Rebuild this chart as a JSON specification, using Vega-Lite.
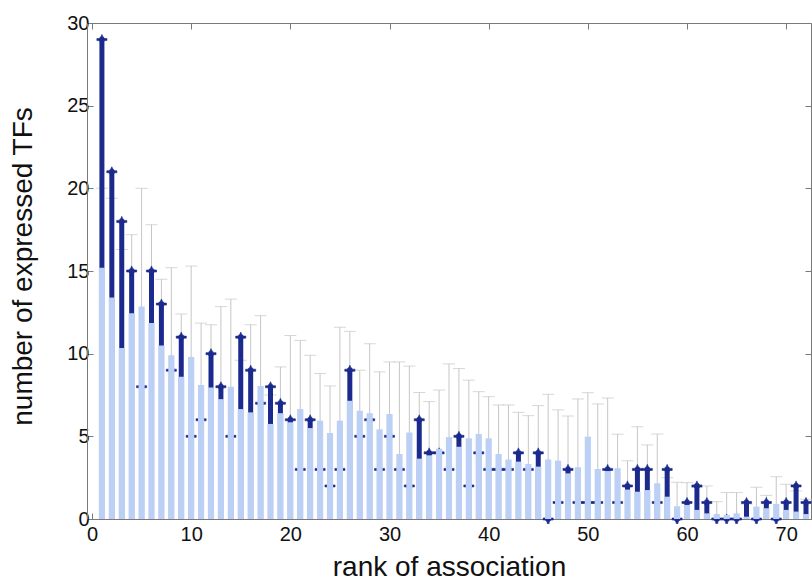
{
  "$schema": "https://vega.github.io/schema/vega-lite/v6.json",
  "width": 724,
  "height": 496,
  "autosize": {"type": "none"},
  "padding": {"left": 87, "top": 23, "right": 1, "bottom": 62},
  "background": "white",
  "config": {"view": {"stroke": "#7a7a7a", "strokeWidth": 1}, "font": "Liberation Sans"},
  "data": {"values": [
    {"rank":1,"random_mean":15.2,"upper":20.0,"observed":29},
    {"rank":2,"random_mean":13.4,"upper":19.4,"observed":21},
    {"rank":3,"random_mean":10.35,"upper":16.3,"observed":18},
    {"rank":4,"random_mean":12.45,"upper":17.2,"observed":15},
    {"rank":5,"random_mean":12.85,"upper":20.0,"observed":8},
    {"rank":6,"random_mean":11.85,"upper":17.8,"observed":15},
    {"rank":7,"random_mean":10.5,"upper":14.5,"observed":13},
    {"rank":8,"random_mean":9.9,"upper":15.2,"observed":9},
    {"rank":9,"random_mean":8.6,"upper":12.4,"observed":11},
    {"rank":10,"random_mean":9.8,"upper":15.3,"observed":5},
    {"rank":11,"random_mean":8.1,"upper":11.85,"observed":6},
    {"rank":12,"random_mean":7.95,"upper":11.75,"observed":10},
    {"rank":13,"random_mean":7.25,"upper":12.85,"observed":8},
    {"rank":14,"random_mean":8.0,"upper":13.3,"observed":5},
    {"rank":15,"random_mean":6.65,"upper":9.6,"observed":11},
    {"rank":16,"random_mean":6.45,"upper":11.75,"observed":9},
    {"rank":17,"random_mean":8.05,"upper":12.3,"observed":7},
    {"rank":18,"random_mean":5.75,"upper":7.5,"observed":8},
    {"rank":19,"random_mean":6.4,"upper":9.2,"observed":7},
    {"rank":20,"random_mean":5.85,"upper":11.1,"observed":6},
    {"rank":21,"random_mean":6.65,"upper":10.8,"observed":3},
    {"rank":22,"random_mean":5.5,"upper":9.9,"observed":6},
    {"rank":23,"random_mean":5.95,"upper":8.8,"observed":3},
    {"rank":24,"random_mean":5.2,"upper":8.05,"observed":2},
    {"rank":25,"random_mean":5.95,"upper":11.6,"observed":3},
    {"rank":26,"random_mean":7.15,"upper":11.35,"observed":9},
    {"rank":27,"random_mean":6.55,"upper":9.0,"observed":5},
    {"rank":28,"random_mean":6.4,"upper":10.6,"observed":6},
    {"rank":29,"random_mean":5.42,"upper":8.9,"observed":3},
    {"rank":30,"random_mean":6.35,"upper":9.5,"observed":5},
    {"rank":31,"random_mean":3.93,"upper":9.5,"observed":3},
    {"rank":32,"random_mean":5.23,"upper":9.25,"observed":2},
    {"rank":33,"random_mean":3.65,"upper":7.65,"observed":6},
    {"rank":34,"random_mean":3.85,"upper":7.1,"observed":4},
    {"rank":35,"random_mean":4.25,"upper":7.8,"observed":4},
    {"rank":36,"random_mean":4.95,"upper":9.38,"observed":3},
    {"rank":37,"random_mean":4.37,"upper":9.1,"observed":5},
    {"rank":38,"random_mean":4.88,"upper":8.4,"observed":2},
    {"rank":39,"random_mean":5.14,"upper":7.7,"observed":4},
    {"rank":40,"random_mean":4.88,"upper":7.4,"observed":3},
    {"rank":41,"random_mean":3.93,"upper":6.9,"observed":3},
    {"rank":42,"random_mean":3.6,"upper":6.9,"observed":3},
    {"rank":43,"random_mean":3.47,"upper":6.45,"observed":4},
    {"rank":44,"random_mean":3.33,"upper":6.25,"observed":3},
    {"rank":45,"random_mean":3.17,"upper":6.86,"observed":4},
    {"rank":46,"random_mean":3.6,"upper":7.54,"observed":0},
    {"rank":47,"random_mean":3.53,"upper":6.6,"observed":1},
    {"rank":48,"random_mean":2.76,"upper":6.23,"observed":3},
    {"rank":49,"random_mean":3.13,"upper":7.26,"observed":1},
    {"rank":50,"random_mean":4.98,"upper":7.64,"observed":1},
    {"rank":51,"random_mean":3.02,"upper":6.96,"observed":1},
    {"rank":52,"random_mean":2.9,"upper":7.32,"observed":3},
    {"rank":53,"random_mean":3.07,"upper":5.13,"observed":1},
    {"rank":54,"random_mean":1.78,"upper":3.52,"observed":2},
    {"rank":55,"random_mean":1.65,"upper":5.58,"observed":3},
    {"rank":56,"random_mean":1.75,"upper":4.48,"observed":3},
    {"rank":57,"random_mean":2.16,"upper":5.14,"observed":1},
    {"rank":58,"random_mean":1.35,"upper":2.5,"observed":3},
    {"rank":59,"random_mean":0.77,"upper":2.22,"observed":0},
    {"rank":60,"random_mean":0.85,"upper":2.2,"observed":1},
    {"rank":61,"random_mean":0.55,"upper":1.9,"observed":2},
    {"rank":62,"random_mean":0.34,"upper":2.0,"observed":1},
    {"rank":63,"random_mean":0.3,"upper":1.05,"observed":0},
    {"rank":64,"random_mean":0.25,"upper":1.6,"observed":0},
    {"rank":65,"random_mean":0.34,"upper":1.6,"observed":0},
    {"rank":66,"random_mean":0.14,"upper":0.9,"observed":1},
    {"rank":67,"random_mean":0.75,"upper":1.92,"observed":0},
    {"rank":68,"random_mean":0.65,"upper":1.43,"observed":1},
    {"rank":69,"random_mean":0.91,"upper":2.56,"observed":0},
    {"rank":70,"random_mean":0.55,"upper":2.1,"observed":1},
    {"rank":71,"random_mean":0.45,"upper":1.7,"observed":2},
    {"rank":72,"random_mean":0.3,"upper":1.2,"observed":1}
  ]},
  "layer": [
    {
      "mark": {"type": "rule", "color": "#c6c6c6", "strokeWidth": 1},
      "encoding": {
        "x": {"field": "rank", "type": "quantitative", "scale": {"domain": [0, 72], "nice": false, "zero": false},
          "axis": {"orient": "bottom", "values": [0,10,20,30,40,50,60,70], "tickSize": -6, "labelPadding": 11, "labelFlush": false,
            "grid": false, "domainColor": "#7a7a7a", "tickColor": "#7a7a7a", "labelColor": "#111111", "labelFontSize": 20,
            "labelFont": "Liberation Sans", "title": "rank of association", "titleFont": "Liberation Sans", "titleFontSize": 28,
            "titleFontWeight": "normal", "titleColor": "#111111", "titleY": 48, "titleBaseline": "middle"}},
        "y": {"field": "upper", "type": "quantitative", "scale": {"domain": [0, 30], "nice": false},
          "axis": {"orient": "left", "values": [0,5,10,15,20,25,30], "tickSize": -6, "labelPadding": 4, "labelFlush": false,
            "grid": false, "domainColor": "#7a7a7a", "tickColor": "#7a7a7a", "labelColor": "#111111", "labelFontSize": 20,
            "labelFont": "Liberation Sans", "title": "number of expressed TFs", "titleFont": "Liberation Sans", "titleFontSize": 28,
            "titleFontWeight": "normal", "titleColor": "#111111", "titleX": -64, "titleY": 243, "titleBaseline": "middle"}},
        "y2": {"datum": 0}
      }
    },
    {
      "mark": {"type": "tick", "orient": "horizontal", "color": "#c6c6c6", "size": 12, "thickness": 1},
      "encoding": {
        "x": {"field": "rank", "type": "quantitative", "scale": {"domain": [0, 72], "nice": false, "zero": false},
          "axis": {"orient": "top", "values": [0,10,20,30,40,50,60,70], "tickSize": -6, "labels": false, "title": null,
            "grid": false, "domain": false, "tickColor": "#7a7a7a"}},
        "y": {"field": "upper", "type": "quantitative", "scale": {"domain": [0, 30], "nice": false},
          "axis": {"orient": "right", "values": [0,5,10,15,20,25,30], "tickSize": -6, "labels": false, "title": null,
            "grid": false, "domain": false, "tickColor": "#7a7a7a"}}
      }
    },
    {
      "mark": {"type": "rule", "color": "#1b2a8c", "strokeWidth": 5},
      "encoding": {
        "x": {"field": "rank", "type": "quantitative", "scale": {"domain": [0, 72], "nice": false, "zero": false}, "axis": null},
        "y": {"field": "observed", "type": "quantitative", "scale": {"domain": [0, 30], "nice": false}, "axis": null},
        "y2": {"datum": 0}
      }
    },
    {
      "mark": {"type": "point", "shape": "M-1,-0.2H-0.54A0.58,0.58 0 0 1 -0.2,-0.54L0,-1L0.2,-0.54A0.58,0.58 0 0 1 0.54,-0.2H1V0.2H0.54A0.58,0.58 0 0 1 0.2,0.54V0.9H-0.2V0.54A0.58,0.58 0 0 1 -0.54,0.2H-1Z",
        "filled": true, "color": "#1b2a8c", "stroke": "#1b2a8c", "strokeWidth": 0.6, "size": 102, "opacity": 1},
      "encoding": {
        "x": {"field": "rank", "type": "quantitative", "scale": {"domain": [0, 72], "nice": false, "zero": false}, "axis": null},
        "y": {"field": "observed", "type": "quantitative", "scale": {"domain": [0, 30], "nice": false}, "axis": null}
      }
    },
    {
      "mark": {"type": "bar", "color": "#bccff5", "width": 6.2},
      "encoding": {
        "x": {"field": "rank", "type": "quantitative", "scale": {"domain": [0, 72], "nice": false, "zero": false}, "axis": null},
        "y": {"field": "random_mean", "type": "quantitative", "scale": {"domain": [0, 30], "nice": false}, "axis": null}
      }
    }
  ],
  "resolve": {"axis": {"x": "independent", "y": "independent"}}
}
